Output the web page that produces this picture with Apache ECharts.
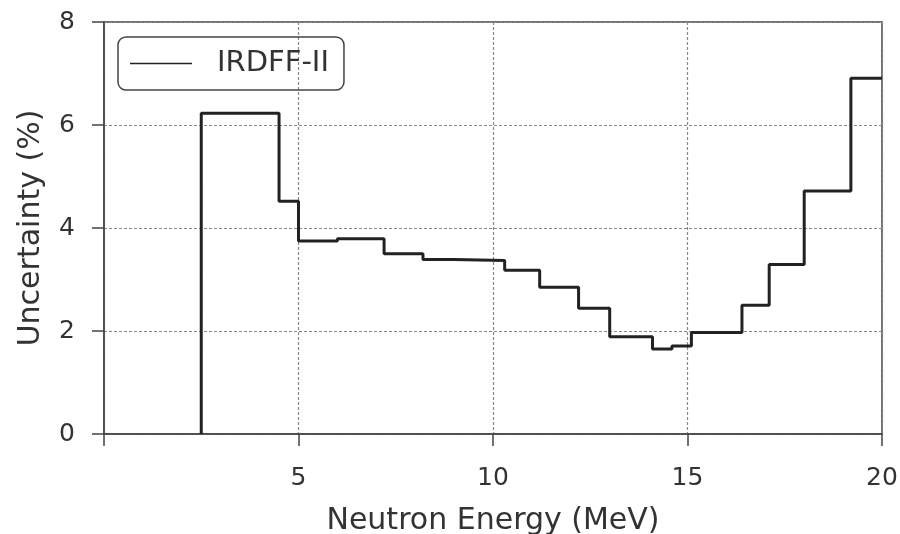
<!DOCTYPE html>
<html>
<head>
<meta charset="utf-8">
<script src="https://cdn.jsdelivr.net/npm/echarts@6/dist/echarts.min.js"></script>
<style>
  html, body { margin: 0; padding: 0; background: #fff; }
  #chart { width: 900px; height: 534px; }
</style>
</head>
<body>
<div id="chart"></div>
<script>
// bin edges (MeV) and uncertainty (%) per bin
const edges = [2.5, 4.5, 5.0, 6.0, 7.2, 8.2, 9.0, 10.3, 11.2, 12.2, 13.0, 14.1, 14.6, 15.1, 16.4, 17.1, 18.0, 19.2, 20.0];
const values = [6.23, 4.52, 3.75, 3.79, 3.50, 3.39, 3.37, 3.18, 2.85, 2.44, 1.89, 1.65, 1.71, 1.97, 2.50, 3.29, 4.72, 6.91];
const xTicks = [5, 10, 15, 20];
const yTicks = [0, 2, 4, 6, 8];

// build step points: start from zero at first edge
const points = [[edges[0], 0]];
for (let i = 0; i < values.length; i++) {
	points.push([edges[i], values[i]]);
}
points.push([edges[edges.length - 1], values[values.length - 1]]);

const font = 'DejaVu Sans';
const chart = echarts.init(document.getElementById('chart'));
const option = {
	animation: false,
	grid: {
		left: 104,
		right: 18,
		top: 22,
		bottom: 100,
		outerBoundsMode: 'none',
		show: true,
		borderColor: '#444',
		borderWidth: 1.5
	},
	legend: {
		left: 118,
		top: 37,
		padding: [12, 15, 12, 12],
		borderColor: '#444',
		borderWidth: 1.5,
		borderRadius: 8,
		icon: 'rect',
		itemWidth: 62,
		itemHeight: 1.5,
		textStyle: {
			fontFamily: font,
			fontSize: 29,
			color: '#333',
			padding: [0, 0, 0, 20]
		},
		data: ['IRDFF-II']
	},
	xAxis: {
		type: 'value',
		min: 0,
		max: 20,
		interval: 5,
		name: 'Neutron Energy (MeV)',
		nameLocation: 'middle',
		nameGap: 72,
		nameTextStyle: { fontFamily: font, fontSize: 30, color: '#333' },
		axisLine: { lineStyle: { color: '#444', width: 1.5 } },
		axisTick: { show: true, length: 12, lineStyle: { color: '#444', width: 1.5 } },
		axisLabel: {
			fontFamily: font,
			fontSize: 25,
			color: '#333',
			margin: 32,
			formatter: v => (xTicks.indexOf(v) >= 0 ? String(v) : '')
		},
		splitLine: { show: true, lineStyle: { color: '#888', width: 1.2, type: [3, 2] } }
	},
	yAxis: {
		type: 'value',
		min: 0,
		max: 8,
		interval: 2,
		name: 'Uncertainty (%)',
		nameLocation: 'middle',
		nameGap: 58,
		nameTextStyle: { fontFamily: font, fontSize: 30, color: '#333' },
		axisLine: { show: true, lineStyle: { color: '#444', width: 1.5 } },
		axisTick: { show: true, length: 12, lineStyle: { color: '#444', width: 1.5 } },
		axisLabel: {
			fontFamily: font,
			fontSize: 25,
			color: '#333',
			margin: 29,
			formatter: v => (yTicks.indexOf(v) >= 0 ? String(v) : '')
		},
		splitLine: { show: true, lineStyle: { color: '#888', width: 1.2, type: [3, 2] } }
	},
	series: [{
		name: 'IRDFF-II',
		type: 'line',
		step: 'end',
		data: points,
		showSymbol: false,
		symbol: 'none',
		color: '#222',
		lineStyle: { color: '#222', width: 3 }
	}]
};
chart.setOption(option);
</script>
</body>
</html>
